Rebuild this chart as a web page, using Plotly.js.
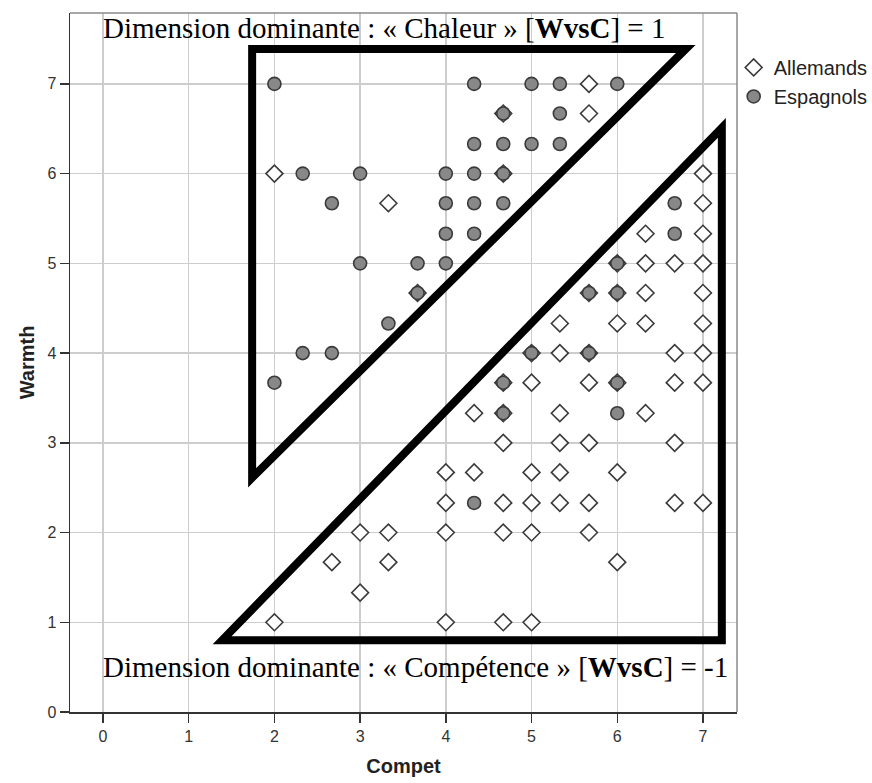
<!DOCTYPE html>
<html>
<head>
<meta charset="utf-8">
<script src="https://cdn.plot.ly/plotly-3.0.1.min.js"></script>
<style>
  html, body { margin: 0; padding: 0; background: #fff; }
  #chart { width: 872px; height: 783px; }
</style>
</head>
<body>
<div id="chart"></div>
<script>
// Scores (Compet, Warmth) per respondent group
const allemandsX = [5.67, 4.67, 5.67, 2, 4.67, 3.33, 3.67,
  7, 7, 6.33, 7, 6, 6.33, 6.67, 7, 5.67, 6, 6.33, 7, 5.33, 6, 6.33, 7,
  5, 5.33, 5.67, 6.67, 7, 4.67, 5, 5.67, 6, 6.67, 7, 4.33, 4.67, 5.33, 6.33,
  4.67, 5.33, 5.67, 6.67, 4, 4.33, 5, 5.33, 6, 4, 4.67, 5, 5.33, 5.67, 6.67, 7,
  3, 3.33, 4, 4.67, 5, 5.67, 2.67, 3.33, 6, 3, 2, 4, 4.67, 5];
const allemandsY = [7, 6.67, 6.67, 6, 6, 5.67, 4.67,
  6, 5.67, 5.33, 5.33, 5, 5, 5, 5, 4.67, 4.67, 4.67, 4.67, 4.33, 4.33, 4.33, 4.33,
  4, 4, 4, 4, 4, 3.67, 3.67, 3.67, 3.67, 3.67, 3.67, 3.33, 3.33, 3.33, 3.33,
  3, 3, 3, 3, 2.67, 2.67, 2.67, 2.67, 2.67, 2.33, 2.33, 2.33, 2.33, 2.33, 2.33, 2.33,
  2, 2, 2, 2, 2, 2, 1.67, 1.67, 1.67, 1.33, 1, 1, 1, 1];

const espagnolsX = [2, 4.33, 5, 5.33, 6,
  4.67, 5.33,
  4.33, 4.67, 5, 5.33,
  2.33, 3, 4, 4.33, 4.67,
  2.67, 4, 4.33, 4.67,
  4, 4.33,
  3, 3.67, 4,
  3.67, 3.33, 2.33, 2.67, 2,
  6.67, 6.67, 6, 5.67, 6, 5, 5.67, 4.67, 6, 4.67, 6, 4.33];
const espagnolsY = [7, 7, 7, 7, 7,
  6.67, 6.67,
  6.33, 6.33, 6.33, 6.33,
  6, 6, 6, 6, 6,
  5.67, 5.67, 5.67, 5.67,
  5.33, 5.33,
  5, 5, 5,
  4.67, 4.33, 4, 4, 3.67,
  5.67, 5.33, 5, 4.67, 4.67, 4, 4, 3.67, 3.67, 3.33, 3.33, 2.33];

const groupNames = ['Allemands', 'Espagnols'];
const xTicks = [0, 1, 2, 3, 4, 5, 6, 7];
const yTicks = [0, 1, 2, 3, 4, 5, 6, 7];

// Outline zones: warmth-dominant (upper-left) and competence-dominant (lower-right)
const chaleurZoneX = [1.74, 6.80, 1.74];
const chaleurZoneY = [7.39, 7.39, 2.61];
const competenceZoneX = [7.22, 7.22, 1.39];
const competenceZoneY = [6.51, 0.80, 0.80];

const zoneLabels = [
  'Dimension dominante : « Chaleur » [<b>WvsC</b>] = 1',
  'Dimension dominante : « Compétence » [<b>WvsC</b>] = -1'
];

function trianglePath(xs, ys) {
  return 'M ' + xs.map((x, i) => x + ',' + ys[i]).join(' L ') + ' Z';
}

const traces = [
  {
    type: 'scatter', mode: 'markers', name: groupNames[0],
    x: allemandsX, y: allemandsY,
    marker: { symbol: 'diamond', size: 13, color: '#ffffff',
              line: { color: '#3a3a3a', width: 1.6 } }
  },
  {
    type: 'scatter', mode: 'markers', name: groupNames[1],
    x: espagnolsX, y: espagnolsY,
    marker: { symbol: 'circle', size: 13, color: '#888888',
              line: { color: '#3a3a3a', width: 1.6 } }
  }
];

const layout = {
  width: 872, height: 783,
  margin: { l: 70, r: 135, t: 13, b: 71, autoexpand: false },
  paper_bgcolor: '#ffffff', plot_bgcolor: '#ffffff',
  font: { family: 'Liberation Sans, Arial, sans-serif', color: '#222' },
  showlegend: true,
  legend: {
    x: 0.995, xanchor: 'left', y: 0.95, yanchor: 'top',
    font: { size: 20, color: '#222' },
    bgcolor: 'rgba(0,0,0,0)', borderwidth: 0,
    itemwidth: 30, tracegroupgap: 0
  },
  xaxis: {
    range: [-0.385, 7.397],
    tickvals: xTicks, ticktext: xTicks.map(String),
    ticks: 'outside', ticklen: 9, tickwidth: 1.5, tickcolor: '#333',
    tickfont: { size: 16, color: '#333' },
    showgrid: true, gridcolor: '#cdcdcd', gridwidth: 1.5,
    zeroline: false,
    showline: true, linecolor: '#333', linewidth: 1.5,
    title: { text: '<b>Compet</b>', font: { size: 20, color: '#222' }, standoff: 15 }
  },
  yaxis: {
    range: [0, 7.79],
    tickvals: yTicks, ticktext: yTicks.map(String),
    ticks: 'outside', ticklen: 9, tickwidth: 1.5, tickcolor: '#333',
    tickfont: { size: 16, color: '#333' },
    showgrid: true, gridcolor: '#cdcdcd', gridwidth: 1.5,
    zeroline: false,
    showline: true, linecolor: '#333', linewidth: 1.5,
    title: { text: '<b>Warmth</b>', font: { size: 20, color: '#222' }, standoff: 7 }
  },
  shapes: [
    // top and right frame edges
    { type: 'line', xref: 'paper', yref: 'paper', x0: 0, x1: 1, y0: 1, y1: 1,
      line: { color: '#8a8a8a', width: 1.5 } },
    { type: 'line', xref: 'paper', yref: 'paper', x0: 1, x1: 1, y0: 0, y1: 1,
      line: { color: '#8a8a8a', width: 1.5 } },
    { type: 'path', xref: 'x', yref: 'y', path: trianglePath(chaleurZoneX, chaleurZoneY),
      line: { color: '#000', width: 8 }, fillcolor: 'rgba(0,0,0,0)' },
    { type: 'path', xref: 'x', yref: 'y', path: trianglePath(competenceZoneX, competenceZoneY),
      line: { color: '#000', width: 8 }, fillcolor: 'rgba(0,0,0,0)' }
  ],
  annotations: [
    { xref: 'paper', yref: 'paper', x: 0.471, y: 0.9785, xanchor: 'center', yanchor: 'middle',
      text: zoneLabels[0], showarrow: false,
      font: { family: 'Liberation Serif, Times New Roman, serif', size: 29, color: '#000' } },
    { xref: 'paper', yref: 'paper', x: 0.518, y: 0.064, xanchor: 'center', yanchor: 'middle',
      text: zoneLabels[1], showarrow: false,
      font: { family: 'Liberation Serif, Times New Roman, serif', size: 29, color: '#000' } }
  ]
};

Plotly.newPlot('chart', traces, layout, { displayModeBar: false, staticPlot: true });
</script>
</body>
</html>
